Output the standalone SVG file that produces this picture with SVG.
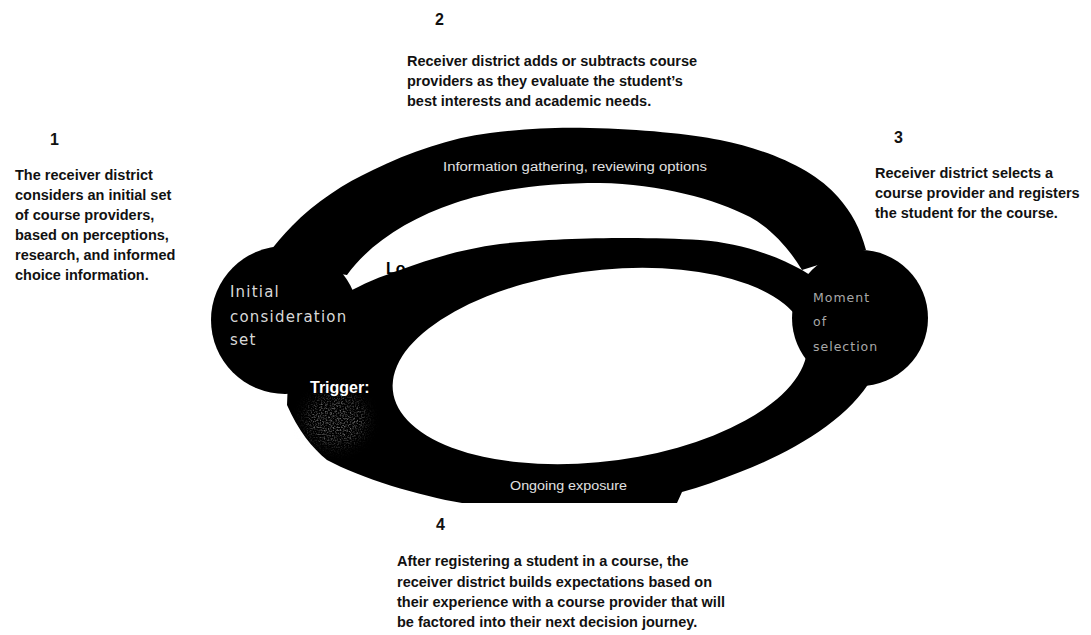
<svg xmlns="http://www.w3.org/2000/svg" width="1091" height="635" viewBox="0 0 1091 635">
  <defs>
    <style>
      .step { font-family: "Liberation Sans", Arial, sans-serif; font-size: 14.5px; font-weight: bold; fill: #111; }
      .num { font-family: "Liberation Sans", Arial, sans-serif; font-size: 16px; font-weight: bold; fill: #111; }
      .band { fill: #000; }
      .node { fill: #000; }
      .node-label { font-family: "DejaVu Sans", sans-serif; font-size: 15px; letter-spacing: 1.2px; fill: #d8d8d8; }
      .node-label-sm { font-family: "DejaVu Sans", sans-serif; font-size: 12.5px; letter-spacing: 1px; fill: #a8a8a8; }
      .band-label { font-family: "Liberation Sans", Arial, sans-serif; font-size: 12px; fill: #e0e0e0; }
      .tag { font-family: "Liberation Sans", Arial, sans-serif; font-size: 16px; font-weight: bold; }
    </style>
    <!-- speckled wear on the loop -->
    <filter id="grain" x="-30%" y="-30%" width="160%" height="160%">
      <feTurbulence type="fractalNoise" baseFrequency="0.7" numOctaves="2" seed="7" result="noise"/>
      <feColorMatrix in="noise" type="matrix" values="0 0 0 0 0.55  0 0 0 0 0.55  0 0 0 0 0.55  0 0 0 1.6 -0.72" result="specks"/>
      <feGaussianBlur in="SourceAlpha" stdDeviation="7" result="mask"/>
      <feComposite in="specks" in2="mask" operator="in"/>
    </filter>
  </defs>

  <rect width="1091" height="635" fill="#fff"/>

  <!-- connectors: the upper arc and the lower loop -->
  <g id="connectors">
    <!-- upper arc: information gathering -->
    <path id="arc-evaluate" class="band" d="M 262 262 C 272 248, 282 236, 292 226 C 315 202, 345 183, 373 170 C 410 152, 450 138, 490 133 C 530 128, 560 127, 590 128 C 640 129, 690 134, 720 140 C 770 150, 815 170, 838 197 C 852 213, 860 228, 866 250 L 802 270 C 790 250, 772 229, 750 217 C 715 199, 660 184, 600 183 C 540 183, 490 191, 455 203 C 410 218, 370 243, 347 275 Z"/>
    <!-- lower loop: loyalty loop / ongoing exposure -->
    <path id="loop-loyalty" class="band" fill-rule="evenodd" d="M 345 294 C 362 284, 382 276, 400 270 C 430 259, 462 249, 500 244 C 550 238, 640 236, 700 240 C 740 243, 775 255, 802 270 L 850 300 L 872 378 C 848 420, 792 452, 740 472 C 720 480, 700 487, 682 492 L 677 503 L 462 503 C 420 496, 360 478, 327 460 C 312 448, 298 430, 287 405 L 290 330 Z M 397 366 A 203 93 -7 1 0 803 366 A 203 93 -7 1 0 397 366 Z"/>
    <text class="band-label" x="443" y="171" textLength="264" lengthAdjust="spacingAndGlyphs">Information gathering, reviewing options</text>
    <text class="band-label" x="510" y="490" font-size="13" textLength="117" lengthAdjust="spacingAndGlyphs" fill="#f0f0f0">Ongoing exposure</text>
  </g>

  <!-- node: initial consideration set -->
  <g id="node-initial">
    <circle class="node" cx="285" cy="320" r="74"/>
    <text class="node-label" x="230" y="297">Initial</text>
    <text class="node-label" x="230" y="322">consideration</text>
    <text class="node-label" x="230" y="345">set</text>
  </g>

  <!-- node: moment of selection -->
  <g id="node-moment">
    <circle class="node" cx="860" cy="318" r="68"/>
    <text class="node-label-sm" x="813" y="302">Moment</text>
    <text class="node-label-sm" x="813" y="326">of</text>
    <text class="node-label-sm" x="813" y="351">selection</text>
  </g>

  <!-- loop tags drawn over the nodes -->
  <g id="loop-tags">
    <ellipse cx="336" cy="420" rx="30" ry="26" fill="#000" filter="url(#grain)"/>
    <text class="tag" x="310" y="393" fill="#fff">Trigger:</text>
    <text class="tag" x="386" y="274" fill="#000">Lo</text>
  </g>

  <!-- step 1 -->
  <g id="step-1">
    <text class="num" x="50" y="145">1</text>
    <text class="step" x="15" y="180">The receiver district</text>
    <text class="step" x="15" y="200">considers an initial set</text>
    <text class="step" x="15" y="220">of course providers,</text>
    <text class="step" x="15" y="240">based on perceptions,</text>
    <text class="step" x="15" y="260">research, and informed</text>
    <text class="step" x="15" y="280">choice information.</text>
  </g>

  <!-- step 2 -->
  <g id="step-2">
    <text class="num" x="435" y="25">2</text>
    <text class="step" x="407" y="66">Receiver district adds or subtracts course</text>
    <text class="step" x="407" y="86">providers as they evaluate the  student’s</text>
    <text class="step" x="407" y="106">best interests and academic needs.</text>
  </g>

  <!-- step 3 -->
  <g id="step-3">
    <text class="num" x="894" y="143">3</text>
    <text class="step" x="875" y="178">Receiver district selects a</text>
    <text class="step" x="875" y="198">course provider and registers</text>
    <text class="step" x="875" y="218">the student for the course.</text>
  </g>

  <!-- step 4 -->
  <g id="step-4">
    <text class="num" x="436" y="530">4</text>
    <text class="step" x="397" y="566">After registering a student in a course, the</text>
    <text class="step" x="397" y="587">receiver district builds expectations based on</text>
    <text class="step" x="397" y="607">their experience with a course provider that will</text>
    <text class="step" x="397" y="627">be factored into their next decision journey.</text>
  </g>
</svg>
